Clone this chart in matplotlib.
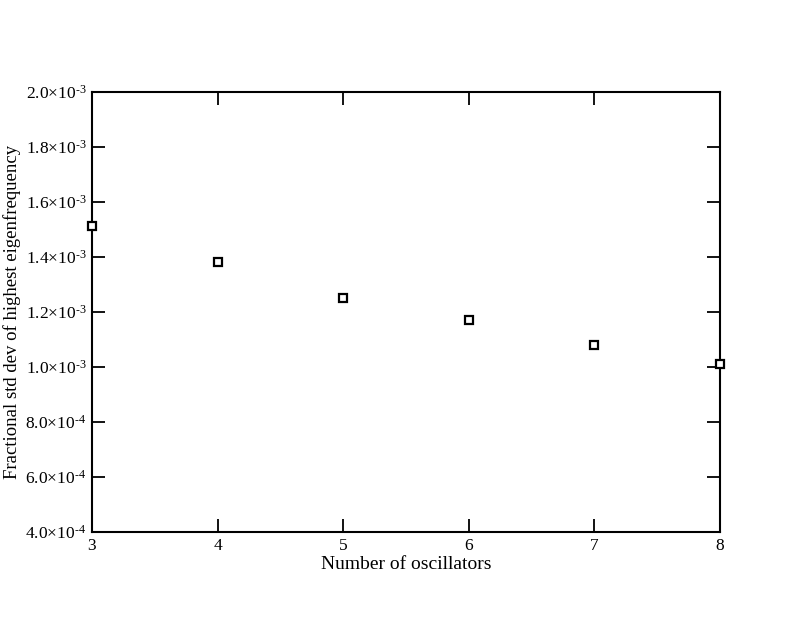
import matplotlib
matplotlib.use("Agg")
import matplotlib.pyplot as plt
from matplotlib.ticker import FuncFormatter, MultipleLocator

# number of oscillators vs fractional std dev of highest eigenfrequency
n_osc = [3, 4, 5, 6, 7, 8]
frac_std = [1.514e-3, 1.383e-3, 1.252e-3, 1.173e-3, 1.080e-3, 1.013e-3]

plt.rcParams['font.family'] = ['Liberation Serif', 'DejaVu Serif']
plt.rcParams['mathtext.fontset'] = 'stix'


def sci_label(v, pos):
    exp = -3 if v >= 1e-3 - 1e-12 else -4
    mant = v / 10 ** exp
    return r'$\mathregular{%.1f{\times}10^{\text{-}%d}}$' % (mant, -exp)


fig = plt.figure(figsize=(8, 6.18), dpi=100)
ax = fig.add_axes([0.115, 0.139, 0.785, 0.712])

ax.plot(n_osc, frac_std, linestyle='none', marker='s', markersize=5.5,
        markerfacecolor='white', markeredgecolor='black', markeredgewidth=1.6,
        clip_on=False, zorder=5)

ax.set_xlim(3, 8)
ax.set_ylim(4e-4, 2e-3)
ax.xaxis.set_major_locator(MultipleLocator(1))
ax.yaxis.set_major_locator(MultipleLocator(2e-4))
ax.yaxis.set_major_formatter(FuncFormatter(sci_label))

for s in ax.spines.values():
    s.set_linewidth(1.5)
ax.tick_params(direction='in', length=9.5, width=1.3, labelsize=12.5,
               top=True, right=True, pad=4)

ax.set_xlabel('Number of oscillators', fontsize=14, labelpad=2)
ax.set_ylabel('Fractional std dev of highest eigenfrequency', fontsize=13.5, labelpad=3)

fig.savefig('out.png', dpi=100)
